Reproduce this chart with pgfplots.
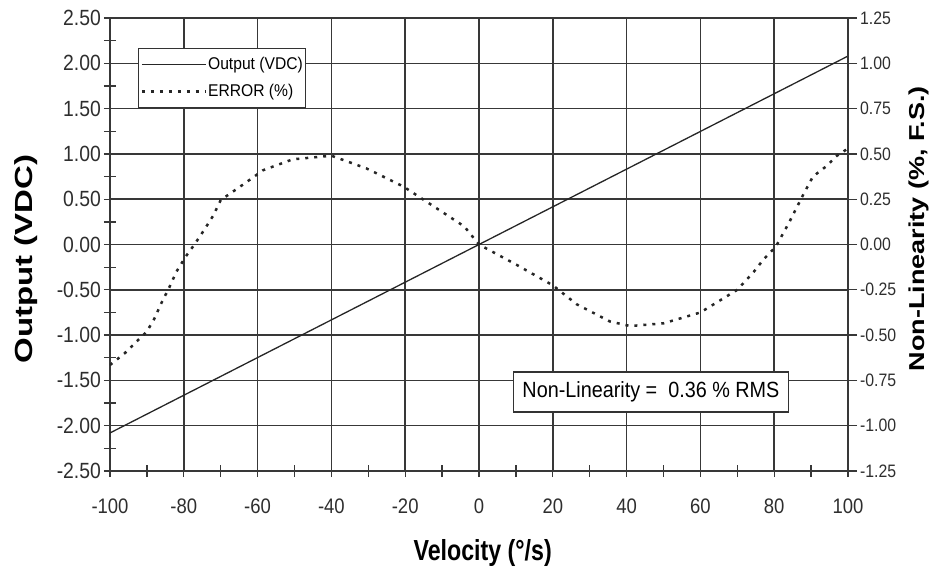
\documentclass[border=0pt]{standalone}
\usepackage{fontspec}
\setmainfont{Liberation Sans}
\usepackage{pgfplots}
\pgfplotsset{compat=1.18}
\pgfplotsset{
  errstyle/.style={black!85, line width=2.5pt, dash pattern=on 3pt off 6pt, line join=round},
  outstyle/.style={black!85, line width=1.3pt},
}
\begin{document}
\begin{tikzpicture}
\useasboundingbox (-110pt,-100pt) rectangle (827pt,471pt);
\begin{axis}[
  at={(0pt,0pt)}, anchor=south west,
  scale only axis, width=738pt, height=453pt,
  xmin=-100, xmax=100, ymin=-2.5, ymax=2.5,
  xtick distance=20, ytick distance=0.5,
  minor x tick num=1, minor y tick num=1,
  tick pos=left,
  grid=major, major grid style={black!78, line width=1.5pt},
  axis line style={black!78, line width=1.5pt},
  tick align=center,
  major tick length=12pt, minor tick length=12pt,
  every tick/.style={black!78, line width=1.3pt},
  /pgf/number format/assume math mode=true,
  yticklabel={\pgfmathprintnumber[fixed, fixed zerofill, precision=2]{\tick}},
  xticklabel={\pgfmathprintnumber[fixed, precision=0]{\tick}},
  yticklabel style={font=\fontsize{22}{22}\selectfont, text=black!82, xscale=0.88},
  xticklabel style={font=\fontsize{21}{21}\selectfont, text=black!82, xscale=0.88, yshift=-18pt},
  scaled ticks=false,
  xlabel={Velocity (°/s)},
  ylabel={Output (VDC)},
  xlabel style={font=\bfseries\fontsize{29}{29}\selectfont, at={(axis description cs:0.505,-0.181)}, anchor=center, xscale=0.8},
  ylabel style={font=\bfseries\fontsize{33}{33}\selectfont, at={(axis description cs:-0.114,0.468)}, anchor=center, yscale=0.75},
  legend style={at={(axis description cs:0.038,0.934)}, anchor=north west,
    draw=black!80, line width=1.3pt, fill=white,
    font=\fontsize{17}{17}\selectfont, inner xsep=2pt, inner ysep=7pt,
    row sep=9pt, cells={anchor=west}, nodes={inner xsep=1pt, xscale=0.92}},
  legend image code/.code={\draw[#1] (0pt,0pt) -- (64pt,0pt);},
]
\addplot[outstyle] coordinates {(-100,-2.08) (0,0) (100,2.08)};
\addlegendentry{Output (VDC)}
\addlegendimage{errstyle}
\addlegendentry{ERROR (\%)}
\node[draw=black!80, line width=1.3pt, fill=white, font=\fontsize{22}{22}\selectfont,
  inner xsep=10pt, minimum height=40pt, xscale=0.9] at (axis cs:46.6,-1.628) {Non-Linearity =\ \ 0.36 \% RMS};
\end{axis}
\begin{axis}[
  at={(0pt,0pt)}, anchor=south west,
  scale only axis, width=738pt, height=453pt,
  xmin=-100, xmax=100, ymin=-1.25, ymax=1.25,
  axis x line=none, axis y line*=right,
  ytick distance=0.25,
  tick align=outside, major tick length=9pt,
  axis line style={black!78, line width=1.5pt},
  every tick/.style={black!78, line width=1.3pt},
  /pgf/number format/assume math mode=true,
  yticklabel={\pgfmathprintnumber[fixed, fixed zerofill, precision=2]{\tick}},
  yticklabel style={font=\fontsize{18}{18}\selectfont, text=black!82, xscale=0.88},
  scaled ticks=false,
  ylabel={Non-Linearity (\%, F.S.)},
  ylabel style={font=\bfseries\fontsize{27}{27}\selectfont, at={(axis description cs:1.096,0.535)}, anchor=center, rotate=0, yscale=0.8},
]
\addplot[errstyle] coordinates {
(-100,-0.665) (-96,-0.60) (-93,-0.54) (-90,-0.48) (-88,-0.41) (-86,-0.32)
(-84,-0.24) (-82,-0.15) (-79.5,-0.067) (-77,0.003) (-74.5,0.08) (-72,0.16)
(-70,0.245) (-64,0.33) (-58.5,0.41) (-50.5,0.47) (-40,0.49) (-30.5,0.42)
(-20.5,0.32) (-10,0.18) (-4,0.10) (0,0.0) (10,-0.11) (20,-0.225)
(26.5,-0.33) (35.5,-0.425) (41,-0.45) (50,-0.435) (60,-0.375) (70,-0.25)
(74.5,-0.15) (77,-0.085) (80.5,-0.01) (84,0.12) (86,0.20) (88,0.28)
(90.5,0.375) (94,0.43) (97,0.49) (100,0.53)
};
\end{axis}
\end{tikzpicture}
\end{document}
